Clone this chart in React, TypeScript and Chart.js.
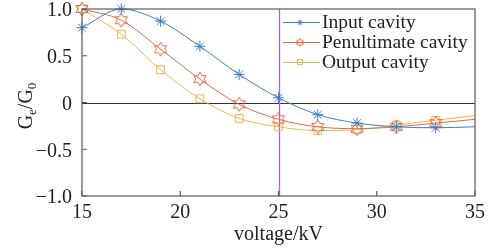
import React, { useEffect, useRef } from "react";
import { Chart, registerables } from "chart.js";
Chart.register(...registerables);

const voltages = [15, 17, 19, 21, 23, 25, 27, 29, 31, 33, 35];
const inputCavity = [0.8, 1.0, 0.87, 0.6, 0.3, 0.05, -0.13, -0.22, -0.26, -0.27, -0.26];
const penultimateCavity = [1.0, 0.88, 0.57, 0.25, -0.02, -0.18, -0.26, -0.28, -0.26, -0.22, -0.18];
const outputCavity = [1.0, 0.73, 0.35, 0.04, -0.17, -0.26, -0.3, -0.29, -0.24, -0.19, -0.14];
const seriesLabels = ["Input cavity", "Penultimate cavity", "Output cavity"];
const xTicks = [15, 20, 25, 30, 35];
const yTicks = [-1, -0.5, 0, 0.5, 1];
const markerVoltage = 25;
const xTitle = "voltage/kV";

const BLUE = "#3b7fc4";
const RED = "#e06a45";
const YELLOW = "#f0b44a";
const PURPLE = "#a463d6";
const AXIS = "#5a5a5a";
const TEXT = "#222222";
const FONT = "'Liberation Serif', 'Times New Roman', serif";

function hexagram(color: string, r: number): HTMLCanvasElement {
  const c = document.createElement("canvas");
  const s = Math.ceil(r * 2 + 4);
  c.width = s;
  c.height = s;
  const ctx = c.getContext("2d")!;
  ctx.strokeStyle = color;
  ctx.lineWidth = 1;
  const cx = s / 2;
  const cy = s / 2;
  const ri = r / Math.sqrt(3);
  ctx.beginPath();
  for (let i = 0; i < 12; i++) {
    const a = -Math.PI / 2 + (i * Math.PI) / 6;
    const rr = i % 2 === 0 ? r : ri;
    const x = cx + rr * Math.cos(a);
    const y = cy + rr * Math.sin(a);
    if (i === 0) ctx.moveTo(x, y);
    else ctx.lineTo(x, y);
  }
  ctx.closePath();
  ctx.stroke();
  return c;
}

function radii(n: number) {
  return voltages.map((v, i) => (i === n - 1 ? 0 : 5.5));
}

export default function App() {
  const ref = useRef<HTMLCanvasElement>(null);
  useEffect(() => {
    const hex = hexagram(RED, 7);
    const hexLegend = hexagram(RED, 4);
    const styles: any[] = ["star", hex, "rect"];
    const legendStyles: any[] = ["star", hexLegend, "rect"];
    const colors = [BLUE, RED, YELLOW];
    const series = [inputCavity, penultimateCavity, outputCavity];

    const overlay = {
      id: "overlay",
      beforeDatasetsDraw(chart: any) {
        const { ctx, chartArea: a, scales } = chart;
        const y0 = scales.y.getPixelForValue(0);
        const xm = scales.x.getPixelForValue(markerVoltage);
        ctx.save();
        ctx.lineWidth = 1;
        ctx.strokeStyle = "#333333";
        ctx.beginPath();
        ctx.moveTo(a.left, Math.round(y0) + 0.5);
        ctx.lineTo(a.right, Math.round(y0) + 0.5);
        ctx.stroke();
        ctx.strokeStyle = PURPLE;
        ctx.lineWidth = 1.3;
        ctx.beginPath();
        ctx.moveTo(Math.round(xm) + 0.5, a.top);
        ctx.lineTo(Math.round(xm) + 0.5, a.bottom);
        ctx.stroke();
        ctx.restore();
      },
      afterDatasetsDraw(chart: any) {
        const { ctx, chartArea: a, scales } = chart;
        ctx.save();
        ctx.strokeStyle = AXIS;
        ctx.lineWidth = 1.2;
        ctx.strokeRect(a.left, a.top, a.right - a.left, a.bottom - a.top);
        // inward ticks
        ctx.beginPath();
        xTicks.forEach((v) => {
          const px = scales.x.getPixelForValue(v);
          ctx.moveTo(px, a.bottom);
          ctx.lineTo(px, a.bottom - 5);
        });
        yTicks.forEach((v) => {
          const py = scales.y.getPixelForValue(v);
          ctx.moveTo(a.left, py);
          ctx.lineTo(a.left + 5, py);
        });
        ctx.stroke();

        // legend
        ctx.font = `19.5px ${FONT}`;
        ctx.textBaseline = "middle";
        ctx.textAlign = "left";
        seriesLabels.forEach((label, i) => {
          const y = 22 + i * 20;
          ctx.strokeStyle = colors[i];
          ctx.lineWidth = 1;
          ctx.beginPath();
          ctx.moveTo(283, y + 0.5);
          ctx.lineTo(320, y + 0.5);
          ctx.stroke();
          const st = legendStyles[i];
          if (st === "star") {
            const r = 3;
            ctx.beginPath();
            for (let k = 0; k < 4; k++) {
              const ang = (k * Math.PI) / 4;
              ctx.moveTo(300 - r * Math.cos(ang), y + 0.5 - r * Math.sin(ang));
              ctx.lineTo(300 + r * Math.cos(ang), y + 0.5 + r * Math.sin(ang));
            }
            ctx.stroke();
          } else if (st === "rect") {
            ctx.strokeRect(297.5, y - 2.5, 5, 5);
          } else {
            ctx.drawImage(st, 300 - st.width / 2, y + 0.5 - st.height / 2);
          }
          ctx.fillStyle = TEXT;
          ctx.fillText(label, 322, y + 1);
        });

        // x title
        ctx.font = `20px ${FONT}`;
        ctx.textAlign = "center";
        ctx.fillText(xTitle, (a.left + a.right) / 2, 235);

        // y title with subscripts
        ctx.translate(25, 106);
        ctx.rotate(-Math.PI / 2);
        const parts: [string, boolean][] = [
          ["G", false],
          ["e", true],
          ["/G", false],
          ["0", true],
        ];
        const big = `20px ${FONT}`;
        const small = `13px ${FONT}`;
        let total = 0;
        parts.forEach(([t, sub]) => {
          ctx.font = sub ? small : big;
          total += ctx.measureText(t).width;
        });
        let x = -total / 2;
        ctx.textAlign = "left";
        ctx.textBaseline = "alphabetic";
        parts.forEach(([t, sub]) => {
          ctx.font = sub ? small : big;
          ctx.fillText(t, x, sub ? 11 : 7);
          x += ctx.measureText(t).width;
        });
        ctx.restore();
      },
    };

    const chart = new Chart(ref.current!, {
      type: "line",
      data: {
        labels: voltages,
        datasets: series.map((vals, i) => ({
          label: seriesLabels[i],
          data: vals.map((v, j) => ({ x: voltages[j], y: v })),
          borderColor: colors[i],
          backgroundColor: "rgba(0,0,0,0)",
          borderWidth: 1,
          pointStyle: styles[i],
          pointRadius: radii(voltages.length),
          pointBorderColor: colors[i],
          pointBorderWidth: 1,
          pointBackgroundColor: "rgba(0,0,0,0)",
          cubicInterpolationMode: "monotone" as const,
          clip: false as any,
        })),
      },
      plugins: [overlay],
      options: {
        responsive: false,
        animation: false,
        devicePixelRatio: 1,
        layout: { padding: { top: 9, right: 17, left: 0, bottom: 0 } },
        plugins: { legend: { display: false }, tooltip: { enabled: false } },
        scales: {
          x: {
            type: "linear",
            min: 15,
            max: 35,
            afterBuildTicks: (s: any) => {
              s.ticks = xTicks.map((v) => ({ value: v }));
            },
            afterFit: (s: any) => {
              s.height = 53;
              s.paddingLeft = 0;
              s.paddingRight = 0;
            },
            grid: { display: false, drawTicks: false },
            border: { display: false },
            ticks: {
              padding: 5,
              color: TEXT,
              font: { family: FONT, size: 20 },
              callback: (v: any) => String(v),
            },
          },
          y: {
            type: "linear",
            min: -1,
            max: 1,
            afterBuildTicks: (s: any) => {
              s.ticks = yTicks.map((v) => ({ value: v }));
            },
            afterFit: (s: any) => {
              s.width = 82;
              s.paddingTop = 0;
              s.paddingBottom = 0;
            },
            grid: { display: false, drawTicks: false },
            border: { display: false },
            ticks: {
              padding: 10,
              labelOffset: 2,
              color: TEXT,
              font: { family: FONT, size: 20 },
              callback: (v: any) => {
                const n = Number(v);
                if (n === 0) return "0";
                const s = Math.abs(n).toFixed(1);
                return n < 0 ? "\u2212" + s : s;
              },
            },
          },
        },
      },
    });
    return () => chart.destroy();
  }, []);
  return (
    <div style={{ position: "absolute", left: 0, top: 0, width: 492, height: 249, background: "#fff" }}>
      <canvas ref={ref} width={492} height={249} style={{ width: 492, height: 249, display: "block" }} />
    </div>
  );
}
